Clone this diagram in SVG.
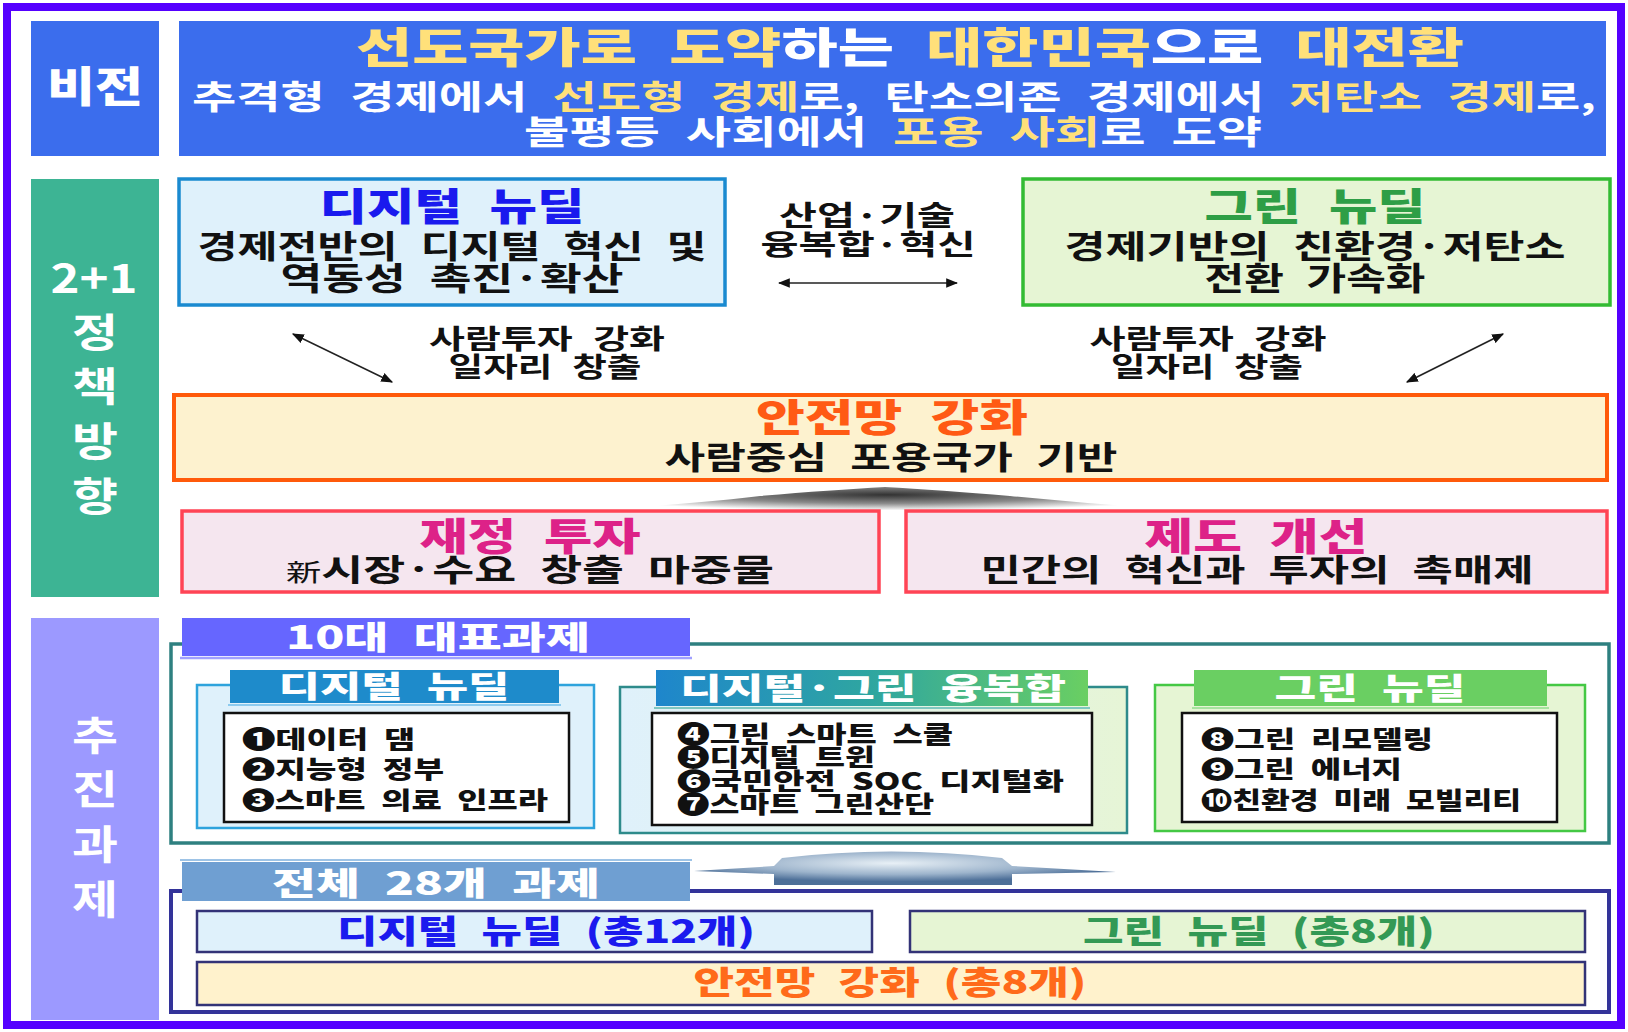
<svg xmlns="http://www.w3.org/2000/svg" width="1628" height="1032" viewBox="0 0 1628 1032">
<defs>
<style>
text{font-family:"Noto Sans CJK KR","Noto Sans",sans-serif;font-weight:700;word-spacing:0.3em;}
.c{text-anchor:middle;}
.w{fill:#ffffff;}
.y{fill:#FFE07A;}
.k{fill:#111111;}
.hd{font-weight:900;}
.item{font-size:24px;fill:#111111;font-weight:900;word-spacing:0.25em;}
.conn{stroke:#222222;stroke-width:1.6;fill:none;marker-start:url(#ah);marker-end:url(#ah);}
.inner{fill:#ffffff;stroke:#111111;stroke-width:2.5;}
</style>
<marker id="ah" viewBox="0 0 10 8" refX="9" refY="4" markerWidth="12" markerHeight="10" markerUnits="userSpaceOnUse" orient="auto-start-reverse">
<path d="M0,0 L10,4 L0,8 z" fill="#111111"/>
</marker>
<linearGradient id="fuse" x1="0" y1="0" x2="1" y2="0">
<stop offset="0" stop-color="#1E86CC"/>
<stop offset="0.5" stop-color="#2FA6A0"/>
<stop offset="1" stop-color="#6ACF62"/>
</linearGradient>
<linearGradient id="fusebg" x1="0" y1="0" x2="1" y2="0">
<stop offset="0" stop-color="#DFF1FB"/>
<stop offset="1" stop-color="#E6F5D6"/>
</linearGradient>
<radialGradient id="gray" cx="0.5" cy="0.3" r="0.6">
<stop offset="0" stop-color="#333333"/>
<stop offset="0.55" stop-color="#8A8A8A"/>
<stop offset="1" stop-color="#ffffff"/>
</radialGradient>
<radialGradient id="blue" cx="0.47" cy="0.35" r="0.55">
<stop offset="0" stop-color="#E8F0F6"/>
<stop offset="0.6" stop-color="#9DB4CC"/>
<stop offset="1" stop-color="#4D6F98"/>
</radialGradient>
</defs>

<rect x="7" y="7" width="1614" height="1018" fill="#ffffff" stroke="#5500FF" stroke-width="8"/>

<g id="vision-label">
<rect x="31" y="21" width="128" height="135" fill="#3B6DED"/>
<text x="95" y="102" class="c w hd" font-size="42" textLength="96" lengthAdjust="spacingAndGlyphs">비전</text>
</g>

<g id="vision">
<rect x="179" y="21" width="1427" height="135" fill="#3B6DED"/>
<text x="910" y="63" class="c hd" font-size="42" textLength="1108" lengthAdjust="spacingAndGlyphs"><tspan class="y">선도국가로</tspan><tspan class="w"> </tspan><tspan class="y">도약</tspan><tspan class="w">하는 </tspan><tspan class="y">대한민국</tspan><tspan class="w">으로 </tspan><tspan class="y">대전환</tspan></text>
<text x="894" y="109" class="c" font-size="33" textLength="1404" lengthAdjust="spacingAndGlyphs"><tspan class="w">추격형 경제에서 </tspan><tspan class="y">선도형 경제</tspan><tspan class="w">로, 탄소의존 경제에서 </tspan><tspan class="y">저탄소 경제</tspan><tspan class="w">로,</tspan></text>
<text x="893" y="144" class="c" font-size="33" textLength="738" lengthAdjust="spacingAndGlyphs"><tspan class="w">불평등 사회에서 </tspan><tspan class="y">포용 사회</tspan><tspan class="w">로 도약</tspan></text>
</g>

<g id="policy-label">
<rect x="31" y="179" width="128" height="418" fill="#3DB494"/>
<text x="94" y="293" class="c w" font-size="40" textLength="87" lengthAdjust="spacingAndGlyphs">2+1</text>
<text x="95" y="347" class="c w" font-size="40" textLength="46" lengthAdjust="spacingAndGlyphs">정</text>
<text x="95" y="401" class="c w" font-size="40" textLength="46" lengthAdjust="spacingAndGlyphs">책</text>
<text x="95" y="456" class="c w" font-size="40" textLength="46" lengthAdjust="spacingAndGlyphs">방</text>
<text x="95" y="511" class="c w" font-size="40" textLength="46" lengthAdjust="spacingAndGlyphs">향</text>
</g>

<g id="digital-newdeal">
<rect x="179" y="179" width="546" height="126" fill="#DFF1FB" stroke="#1A8AD0" stroke-width="3.5"/>
<text x="452" y="220" class="c hd" font-size="38" fill="#1A1AEE" textLength="265" lengthAdjust="spacingAndGlyphs">디지털 뉴딜</text>
<text x="452" y="258" class="c k" font-size="32" textLength="509" lengthAdjust="spacingAndGlyphs">경제전반의 디지털 혁신 및</text>
<text x="452" y="290" class="c k" font-size="32" textLength="343" lengthAdjust="spacingAndGlyphs">역동성 촉진·확산</text>
</g>

<g id="convergence-label">
<text x="867" y="226" class="c k" font-size="28" textLength="176" lengthAdjust="spacingAndGlyphs">산업·기술</text>
<text x="868" y="255" class="c k" font-size="28" textLength="215" lengthAdjust="spacingAndGlyphs">융복합·혁신</text>
</g>

<g id="green-newdeal">
<rect x="1023" y="179" width="587" height="126" fill="#E6F5D4" stroke="#33BB33" stroke-width="3.5"/>
<text x="1315" y="220" class="c hd" font-size="38" fill="#2E9E46" textLength="221" lengthAdjust="spacingAndGlyphs">그린 뉴딜</text>
<text x="1315" y="258" class="c k" font-size="32" textLength="501" lengthAdjust="spacingAndGlyphs">경제기반의 친환경·저탄소</text>
<text x="1315" y="290" class="c k" font-size="32" textLength="221" lengthAdjust="spacingAndGlyphs">전환 가속화</text>
</g>

<g id="people-left">
<text x="547" y="349" class="c k" font-size="27" textLength="236" lengthAdjust="spacingAndGlyphs">사람투자 강화</text>
<text x="545" y="377" class="c k" font-size="27" textLength="193" lengthAdjust="spacingAndGlyphs">일자리 창출</text>
</g>
<g id="people-right">
<text x="1208" y="349" class="c k" font-size="27" textLength="237" lengthAdjust="spacingAndGlyphs">사람투자 강화</text>
<text x="1207" y="377" class="c k" font-size="27" textLength="192" lengthAdjust="spacingAndGlyphs">일자리 창출</text>
</g>

<g id="safety-net">
<rect x="174" y="395" width="1433" height="85" fill="#FDF2CF" stroke="#FF5A0A" stroke-width="4"/>
<text x="892" y="431" class="c hd" font-size="38" fill="#FF5A14" textLength="272" lengthAdjust="spacingAndGlyphs">안전망 강화</text>
<text x="891" y="469" class="c k" font-size="32" textLength="453" lengthAdjust="spacingAndGlyphs">사람중심 포용국가 기반</text>
</g>

<g id="support-arrow">
<path d="M 623,508 Q 700,503 760,496 Q 830,490 885,487 Q 940,490 1010,496 Q 1080,503 1152,508 Q 1080,511 1020,510 L 1020,513 L 750,513 L 750,510 Q 690,511 623,508 Z" fill="url(#gray)"/>
</g>

<g id="fiscal">
<rect x="182" y="511" width="697" height="81" fill="#F5E6EF" stroke="#FF4455" stroke-width="3.5"/>
<text x="530" y="550" class="c hd" font-size="38" fill="#DD2288" textLength="221" lengthAdjust="spacingAndGlyphs">재정 투자</text>
<text x="530" y="581" class="c k" font-size="31" textLength="488" lengthAdjust="spacingAndGlyphs"><tspan font-weight="400" font-size="24">新</tspan>시장·수요 창출 마중물</text>
</g>

<g id="institution">
<rect x="906" y="511" width="701" height="81" fill="#F5E6EF" stroke="#FF4455" stroke-width="3.5"/>
<text x="1256" y="550" class="c hd" font-size="38" fill="#DD2288" textLength="223" lengthAdjust="spacingAndGlyphs">제도 개선</text>
<text x="1257" y="581" class="c k" font-size="31" textLength="553" lengthAdjust="spacingAndGlyphs">민간의 혁신과 투자의 촉매제</text>
</g>

<g id="tasks-label">
<rect x="31" y="618" width="128" height="402" fill="#9C99FF"/>
<text x="95" y="750" class="c w" font-size="40" textLength="46" lengthAdjust="spacingAndGlyphs">추</text>
<text x="95" y="804" class="c w" font-size="40" textLength="46" lengthAdjust="spacingAndGlyphs">진</text>
<text x="95" y="859" class="c w" font-size="40" textLength="46" lengthAdjust="spacingAndGlyphs">과</text>
<text x="95" y="914" class="c w" font-size="40" textLength="46" lengthAdjust="spacingAndGlyphs">제</text>
</g>

<g id="top10">
<rect x="171" y="644" width="1438" height="199" fill="none" stroke="#2E8080" stroke-width="3.5"/>
<rect x="182" y="618" width="508" height="38" fill="#6666FF"/>
<line x1="180" y1="658" x2="692" y2="658" stroke="#A0A0FF" stroke-width="2.5"/>
<text x="438" y="649" class="c w hd" font-size="32" textLength="304" lengthAdjust="spacingAndGlyphs">10대 대표과제</text>
</g>

<g id="top10-digital">
<rect x="197" y="685" width="397" height="143" fill="#DFF1FB" stroke="#2EA3DC" stroke-width="2.5"/>
<rect x="230" y="670" width="329" height="33" fill="#1E8BCB"/>
<line x1="228" y1="705" x2="561" y2="705" stroke="#8CCBEF" stroke-width="2"/>
<text x="394" y="697" class="c w hd" font-size="30" textLength="231" lengthAdjust="spacingAndGlyphs">디지털 뉴딜</text>
<rect x="224" y="713" width="345" height="109" class="inner"/>
<text x="242" y="748" class="item" textLength="173" lengthAdjust="spacingAndGlyphs">❶데이터 댐</text>
<text x="242" y="778" class="item" textLength="202" lengthAdjust="spacingAndGlyphs">❷지능형 정부</text>
<text x="242" y="809" class="item" textLength="306" lengthAdjust="spacingAndGlyphs">❸스마트 의료 인프라</text>
</g>

<g id="top10-fusion">
<rect x="620" y="687" width="507" height="146" fill="url(#fusebg)" stroke="#2E8B8B" stroke-width="2.5"/>
<rect x="656" y="670" width="432" height="36" fill="url(#fuse)"/>
<line x1="654" y1="708" x2="1090" y2="708" stroke="#7FC7C0" stroke-width="2"/>
<text x="873" y="699" class="c w hd" font-size="30" textLength="386" lengthAdjust="spacingAndGlyphs">디지털·그린 융복합</text>
<rect x="652" y="713" width="440" height="112" class="inner"/>
<text x="677" y="743" class="item" font-size="22" textLength="276" lengthAdjust="spacingAndGlyphs">❹그린 스마트 스쿨</text>
<text x="677" y="766" class="item" font-size="22" textLength="198" lengthAdjust="spacingAndGlyphs">❺디지털 트윈</text>
<text x="677" y="790" class="item" font-size="22" textLength="387" lengthAdjust="spacingAndGlyphs">❻국민안전 SOC 디지털화</text>
<text x="677" y="813" class="item" font-size="22" textLength="257" lengthAdjust="spacingAndGlyphs">❼스마트 그린산단</text>
</g>

<g id="top10-green">
<rect x="1155" y="685" width="430" height="146" fill="#E6F5D4" stroke="#44C844" stroke-width="2.5"/>
<rect x="1194" y="670" width="353" height="36" fill="#6ACF62"/>
<line x1="1192" y1="708" x2="1549" y2="708" stroke="#A6E39E" stroke-width="2"/>
<text x="1370" y="699" class="c w hd" font-size="30" textLength="191" lengthAdjust="spacingAndGlyphs">그린 뉴딜</text>
<rect x="1182" y="713" width="375" height="109" class="inner"/>
<text x="1201" y="748" class="item" textLength="232" lengthAdjust="spacingAndGlyphs">❽그린 리모델링</text>
<text x="1201" y="778" class="item" textLength="201" lengthAdjust="spacingAndGlyphs">❾그린 에너지</text>
<text x="1201" y="809" class="item" textLength="320" lengthAdjust="spacingAndGlyphs">❿친환경 미래 모빌리티</text>
</g>

<g id="rollup-arrow">
<path d="M 694,871 L 774,866 L 782,858 Q 891,845 1002,858 L 1012,866 L 1116,872 L 1012,874 L 1012,885 L 774,885 L 774,874 Z" fill="url(#blue)"/>
</g>

<g id="all28">
<rect x="171" y="891" width="1438" height="121" fill="none" stroke="#333399" stroke-width="4"/>
<line x1="180" y1="860" x2="692" y2="860" stroke="#9DC3E6" stroke-width="2"/>
<rect x="182" y="862" width="508" height="39" fill="#6F9FD2"/>
<text x="436" y="895" class="c w hd" font-size="32" textLength="328" lengthAdjust="spacingAndGlyphs">전체 28개 과제</text>
</g>

<g id="all28-digital">
<rect x="197" y="911" width="675" height="41" fill="#DFF1FB" stroke="#333377" stroke-width="2.5"/>
<text x="546" y="943" class="c hd" font-size="32" fill="#1A1AEE" textLength="418" lengthAdjust="spacingAndGlyphs">디지털 뉴딜 (총12개)</text>
</g>
<g id="all28-green">
<rect x="910" y="911" width="675" height="41" fill="#E6F5D4" stroke="#333377" stroke-width="2.5"/>
<text x="1259" y="943" class="c hd" font-size="32" fill="#339955" textLength="352" lengthAdjust="spacingAndGlyphs">그린 뉴딜 (총8개)</text>
</g>
<g id="all28-safety">
<rect x="197" y="962" width="1388" height="43" fill="#FFF2CC" stroke="#333377" stroke-width="2.5"/>
<text x="890" y="994" class="c hd" font-size="32" fill="#FF6A1A" textLength="393" lengthAdjust="spacingAndGlyphs">안전망 강화 (총8개)</text>
</g>

<g id="connectors">
<line x1="779" y1="283" x2="957" y2="283" class="conn"/>
<line x1="293" y1="334" x2="392" y2="382" class="conn"/>
<line x1="1503" y1="334" x2="1407" y2="382" class="conn"/>
</g>
</svg>
